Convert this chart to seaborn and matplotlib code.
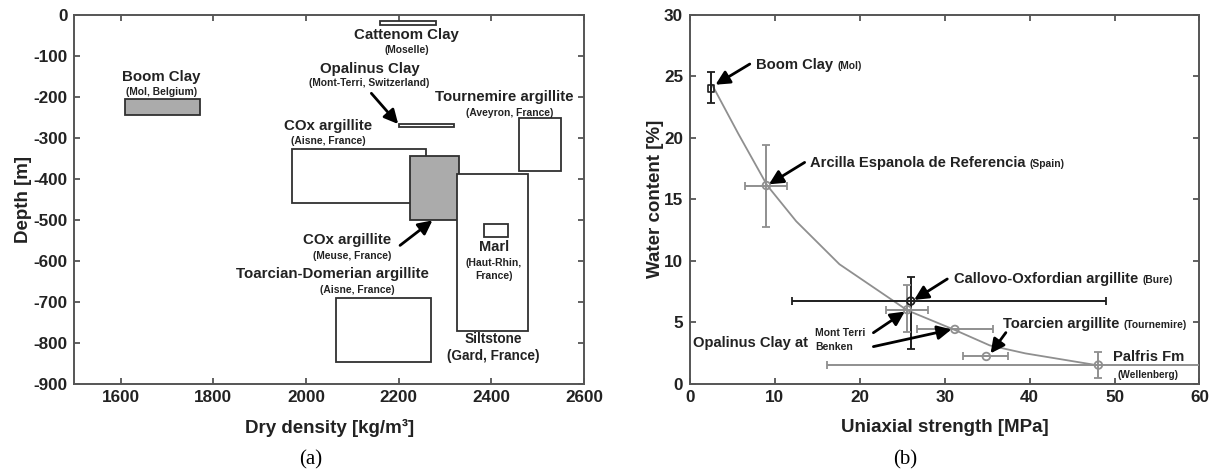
import matplotlib
matplotlib.use("Agg")
import matplotlib.pyplot as plt
from matplotlib.patches import Rectangle
import numpy as np
import pandas as pd
import seaborn as sns

# ---------------- panel (a): dry density vs depth ranges ----------------
rock_names = ["Cattenom Clay", "Boom Clay", "Opalinus Clay", "Tournemire argillite",
              "COx argillite (Aisne)", "COx argillite (Meuse)", "Siltstone",
              "Marl", "Toarcian-Domerian argillite"]
dens_lo = [2160, 1610, 2200, 2460, 1970, 2225, 2325, 2385, 2065]
dens_hi = [2280, 1770, 2320, 2550, 2260, 2330, 2480, 2435, 2270]
depth_top = [-15, -205, -267, -252, -328, -345, -390, -512, -692]
depth_bot = [-25, -245, -274, -382, -460, -500, -772, -543, -848]
rock_filled = [False, True, False, False, False, True, False, False, False]

# ---------------- panel (b): water content vs uniaxial strength ----------------
site_names = ["Boom Clay", "Arcilla Espanola", "Callovo-Oxfordian", "Opalinus Mont Terri",
              "Opalinus Benken", "Toarcien", "Palfris Fm"]
ucs = [2.5, 9.0, 26.0, 25.6, 31.2, 34.9, 48.1]
ucs_lo = [2.5, 6.5, 12.0, 23.1, 26.7, 32.2, 16.1]
ucs_hi = [2.5, 11.4, 49.0, 28.0, 35.7, 37.4, 62.0]
water = [24.0, 16.1, 6.7, 6.0, 4.4, 2.2, 1.5]
water_lo = [22.8, 12.7, 2.8, 4.2, 4.4, 2.2, 0.45]
water_hi = [25.3, 19.4, 8.7, 8.0, 4.4, 2.2, 2.55]
site_dark = [True, False, True, False, False, False, False]

trend_ucs = [2.6, 5.7, 9.1, 12.5, 17.6, 25.6, 31.2, 35.3, 39.5, 48.1]
trend_water = [24.3, 20.3, 16.1, 13.2, 9.7, 5.95, 4.35, 3.1, 2.45, 1.47]

# ---------------- style ----------------
sns.set_theme(style="ticks")
plt.rcParams["font.family"] = ["Liberation Sans", "DejaVu Sans"]
plt.rcParams["font.weight"] = "bold"
plt.rcParams["axes.labelweight"] = "bold"
plt.rcParams["axes.unicode_minus"] = False

SPINE = "#555555"
TXT = "#222222"
GRAY = "#8f8f8f"
DARK = "#1e1e1e"
FILL = "#ababab"

fig = plt.figure(figsize=(12.15, 4.76), dpi=100)
ax1 = fig.add_axes([0.0613, 0.1943, 0.4193, 0.775])
ax2 = fig.add_axes([0.5679, 0.1943, 0.4193, 0.775])


def style_axes(ax):
    for s in ax.spines.values():
        s.set_color(SPINE)
        s.set_linewidth(1.4)
    ax.tick_params(direction="in", top=True, right=True, length=4.5, width=1.3,
                   color=SPINE, labelsize=12.3, labelcolor=TXT, pad=5)
    for lab in ax.get_xticklabels() + ax.get_yticklabels():
        lab.set_fontweight("bold")


arrow_kw = dict(arrowstyle="-|>,head_length=0.7,head_width=0.35", color="black", lw=2.0,
                shrinkA=0, shrinkB=0)

# ---- panel (a)
for x0, x1, yt, yb, filled in zip(dens_lo, dens_hi, depth_top, depth_bot, rock_filled):
    ax1.add_patch(Rectangle((x0, yb), x1 - x0, yt - yb,
                            facecolor=FILL if filled else "white",
                            edgecolor="#303030", lw=1.3, zorder=2))

ax1.set_xlim(1500, 2600)
ax1.set_ylim(-900, 0)
ax1.set_xticks([1600, 1800, 2000, 2200, 2400, 2600])
ax1.set_yticks(np.arange(-900, 1, 100))
ax1.set_xlabel("Dry density [kg/m³]", fontsize=13.5, color=TXT)
ax1.set_ylabel("Depth [m]", fontsize=13.5, color=TXT)
ax1.xaxis.set_label_coords(0.5, -0.12)
ax1.xaxis.label.set_va("center")
ax1.yaxis.set_label_coords(-0.10, 0.5)
ax1.yaxis.label.set_va("center")
style_axes(ax1)


def lbl(ax, x, y, s, size, **kw):
    ax.text(x, y, s, ha=kw.pop("ha", "center"), va="center", fontsize=size,
            fontweight="bold", color=TXT, **kw)


BIG, SMALL = 10.8, 7.4
lbl(ax1, 2217, -49, "Cattenom Clay", BIG)
lbl(ax1, 2217, -87, "(Moselle)", SMALL)
lbl(ax1, 2137, -133, "Opalinus Clay", BIG)
lbl(ax1, 2137, -167, "(Mont-Terri, Switzerland)", SMALL)
lbl(ax1, 1688, -153, "Boom Clay", BIG)
lbl(ax1, 1688, -188, "(Mol, Belgium)", SMALL)
lbl(ax1, 2427, -202, "Tournemire argillite", BIG)
lbl(ax1, 2439, -239, "(Aveyron, France)", SMALL)
lbl(ax1, 2048, -272, "COx argillite", BIG)
lbl(ax1, 2048, -309, "(Aisne, France)", SMALL)
lbl(ax1, 2089, -551, "COx argillite", BIG)
lbl(ax1, 2100, -588, "(Meuse, France)", SMALL)
lbl(ax1, 2057, -633, "Toarcian-Domerian argillite", BIG)
lbl(ax1, 2110, -671, "(Aisne, France)", SMALL)
lbl(ax1, 2405, -567, "Marl", 10.5)
lbl(ax1, 2405, -607, "(Haut-Rhin,", 7.5)
lbl(ax1, 2405, -637, "France)", 7.5)
lbl(ax1, 2405, -791, "Siltstone", 9.8)
lbl(ax1, 2405, -832, "(Gard, France)", 9.8)

ax1.annotate("", xy=(2199, -267), xytext=(2141, -192), arrowprops=arrow_kw, zorder=5)
ax1.annotate("", xy=(2273, -502), xytext=(2203, -563), arrowprops=arrow_kw, zorder=5)

# ---- panel (b)
trend = pd.DataFrame({"ucs": trend_ucs, "water": trend_water})
sns.lineplot(data=trend, x="ucs", y="water", ax=ax2, color=GRAY, lw=1.3,
             sort=False, zorder=2)

for i in range(len(ucs)):
    col = DARK if site_dark[i] else GRAY
    xerr = np.array([[ucs[i] - ucs_lo[i]], [ucs_hi[i] - ucs[i]]])
    yerr = np.array([[water[i] - water_lo[i]], [water_hi[i] - water[i]]])
    ax2.errorbar([ucs[i]], [water[i]], xerr=xerr, yerr=yerr, fmt="none",
                 ecolor=col, elinewidth=1.4, capsize=3, capthick=1.3, zorder=3)

pts = pd.DataFrame({"ucs": ucs, "water": water, "site": site_names,
                    "dark": site_dark})
sq = pts.iloc[[0]]
rest = pts.iloc[1:]
sns.scatterplot(data=sq, x="ucs", y="water", ax=ax2, marker="s", s=22,
                facecolor="none", edgecolor=DARK, linewidth=1.2, zorder=4)
sns.scatterplot(data=rest[rest.dark], x="ucs", y="water", ax=ax2, marker="o", s=30,
                facecolor="none", edgecolor=DARK, linewidth=1.3, zorder=4)
sns.scatterplot(data=rest[~rest.dark], x="ucs", y="water", ax=ax2, marker="o", s=30,
                facecolor="none", edgecolor=GRAY, linewidth=1.3, zorder=4)

ax2.set_xlim(0, 60)
ax2.set_ylim(0, 30)
ax2.set_xticks(np.arange(0, 61, 10))
ax2.set_yticks(np.arange(0, 31, 5))
ax2.set_xlabel("Uniaxial strength [MPa]", fontsize=13.5, color=TXT)
ax2.set_ylabel("Water content [%]", fontsize=13.5, color=TXT)
ax2.xaxis.set_label_coords(0.5, -0.12)
ax2.xaxis.label.set_va("center")
ax2.yaxis.set_label_coords(-0.068, 0.5)
ax2.yaxis.label.set_va("center")
style_axes(ax2)


def site_label(ax, x, y, main, sub, size=10.6, subsize=7.4):
    t = ax.text(x, y, main, ha="left", va="center", fontsize=size,
                fontweight="bold", color=TXT)
    if sub:
        ax.annotate(sub, xy=(1, 0.08), xycoords=t, xytext=(3, 0),
                    textcoords="offset points", ha="left", va="bottom",
                    fontsize=subsize, fontweight="bold", color=TXT)
    return t


site_label(ax2, 7.8, 25.9, "Boom Clay", "(Mol)")
site_label(ax2, 14.1, 17.9, "Arcilla Espanola de Referencia", "(Spain)")
site_label(ax2, 31.1, 8.5, "Callovo-Oxfordian argillite", "(Bure)")
site_label(ax2, 36.9, 4.82, "Toarcien argillite", "(Tournemire)")
site_label(ax2, 49.8, 2.15, "Palfris Fm", None)
ax2.text(50.3, 0.68, "(Wellenberg)", ha="left", va="center", fontsize=7.2,
         fontweight="bold", color=TXT)
ax2.text(0.3, 3.32, "Opalinus Clay at", ha="left", va="center", fontsize=10.6,
         fontweight="bold", color=TXT)
ax2.text(14.7, 4.14, "Mont Terri", ha="left", va="center", fontsize=7.5,
         fontweight="bold", color=TXT)
ax2.text(14.7, 3.0, "Benken", ha="left", va="center", fontsize=7.5,
         fontweight="bold", color=TXT)

ax2.annotate("", xy=(3.0, 24.3), xytext=(7.04, 25.98), arrowprops=arrow_kw, zorder=5)
ax2.annotate("", xy=(9.3, 16.2), xytext=(13.5, 17.98), arrowprops=arrow_kw, zorder=5)
ax2.annotate("", xy=(26.4, 6.8), xytext=(30.3, 8.5), arrowprops=arrow_kw, zorder=5)
ax2.annotate("", xy=(35.4, 2.45), xytext=(37.2, 4.14), arrowprops=arrow_kw, zorder=5)
ax2.annotate("", xy=(25.3, 5.85), xytext=(21.6, 4.13), arrowprops=arrow_kw, zorder=5)
ax2.annotate("", xy=(30.8, 4.4), xytext=(21.6, 3.0), arrowprops=arrow_kw, zorder=5)

# panel letters
fig.text(0.256, 0.034, "(a)", ha="center", va="center", fontsize=15,
         family="Liberation Serif", fontweight="normal", color="black")
fig.text(0.745, 0.034, "(b)", ha="center", va="center", fontsize=15,
         family="Liberation Serif", fontweight="normal", color="black")

fig.savefig("out.png", dpi=100, facecolor="white")
